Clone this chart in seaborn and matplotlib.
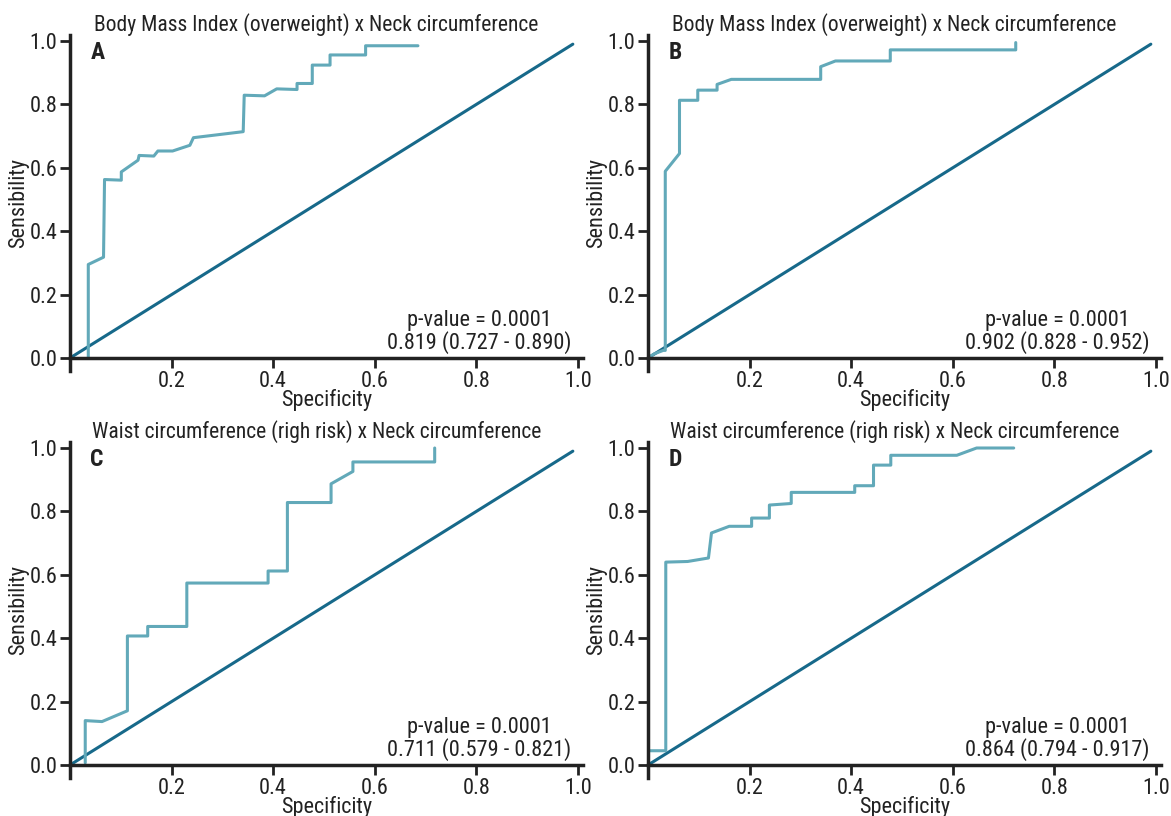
import matplotlib
matplotlib.use("Agg")
import matplotlib.pyplot as plt
from matplotlib import font_manager
import seaborn as sns

sns.set_theme(style="white")

# pick a narrow face if one is installed, else a regular one
installed = {f.name for f in font_manager.fontManager.ttflist}
wanted = ['Liberation Sans Narrow', 'Roboto Condensed', 'Open Sans Condensed',
          'Noto Sans Condensed', 'Liberation Sans']
family = [f for f in wanted if f in installed][0]
narrow = family != 'Liberation Sans'
plt.rcParams['font.family'] = [family, 'DejaVu Sans']
fs = 16 if narrow else 13.5

# ROC curves (x = 1 - specificity, y = sensitivity)
a_x = [0.036, 0.036, 0.066, 0.068, 0.101, 0.101, 0.134, 0.136, 0.165, 0.173, 0.202, 0.236,
       0.243, 0.341, 0.343, 0.383, 0.407, 0.447, 0.447, 0.477, 0.477, 0.512, 0.512, 0.582,
       0.582, 0.685]
a_y = [0.0, 0.295, 0.318, 0.563, 0.561, 0.587, 0.624, 0.639, 0.637, 0.653, 0.653, 0.671,
       0.695, 0.714, 0.829, 0.827, 0.849, 0.847, 0.866, 0.866, 0.924, 0.924, 0.956, 0.956,
       0.985, 0.985]

b_x = [0.0, 0.012, 0.030, 0.034, 0.034, 0.062, 0.062, 0.098, 0.098, 0.136, 0.136, 0.164,
       0.340, 0.340, 0.369, 0.477, 0.477, 0.724, 0.724]
b_y = [0.0, 0.013, 0.024, 0.024, 0.589, 0.645, 0.813, 0.813, 0.845, 0.845, 0.863, 0.879,
       0.879, 0.919, 0.937, 0.937, 0.972, 0.972, 0.995]

c_x = [0.030, 0.030, 0.063, 0.113, 0.113, 0.153, 0.153, 0.230, 0.230, 0.390, 0.390, 0.428,
       0.428, 0.514, 0.514, 0.557, 0.557, 0.718, 0.718]
c_y = [0.007, 0.140, 0.137, 0.171, 0.407, 0.407, 0.437, 0.437, 0.574, 0.574, 0.612, 0.612,
       0.828, 0.828, 0.887, 0.926, 0.956, 0.956, 1.0]

d_x = [0.004, 0.035, 0.035, 0.078, 0.119, 0.125, 0.160, 0.204, 0.204, 0.239, 0.239, 0.282,
       0.282, 0.407, 0.407, 0.444, 0.444, 0.478, 0.478, 0.608, 0.647, 0.720]
d_y = [0.045, 0.045, 0.640, 0.642, 0.653, 0.732, 0.753, 0.753, 0.779, 0.779, 0.820, 0.825,
       0.860, 0.860, 0.881, 0.881, 0.946, 0.946, 0.977, 0.977, 1.0, 1.0]

diag = [0.0, 0.99]

titles = ["Body Mass Index (overweight) x Neck circumference",
          "Body Mass Index (overweight) x Neck circumference",
          "Waist circumference (righ risk) x Neck circumference",
          "Waist circumference (righ risk) x Neck circumference"]
letters = ["A", "B", "C", "D"]
stats = ["p-value = 0.0001\n0.819 (0.727 - 0.890)",
         "p-value = 0.0001\n0.902 (0.828 - 0.952)",
         "p-value = 0.0001\n0.711 (0.579 - 0.821)",
         "p-value = 0.0001\n0.864 (0.794 - 0.917)"]
curves = [(a_x, a_y), (b_x, b_y), (c_x, c_y), (d_x, d_y)]

curve_color = "#62a9b9"
diag_color = "#17698a"
ink = "#222222"

fig = plt.figure(figsize=(11.71, 8.16), dpi=100)
W, H = 1171, 816
# left spine x, y of data-zero (pixels)
origins = [(70, 358), (648, 358), (70, 765), (648, 765)]

for i, (ox, oy) in enumerate(origins):
    unit_y = 317
    bottom = oy + 0.04 * unit_y
    top = oy - 1.02 * unit_y
    ax = fig.add_axes([ox / W, 1 - bottom / H, 513 / W, (bottom - top) / H])
    xs, ys = curves[i]
    sns.lineplot(x=diag, y=diag, ax=ax, color=diag_color, lw=2.2,
                 sort=False, estimator=None, errorbar=None)
    sns.lineplot(x=xs, y=ys, ax=ax, color=curve_color, lw=2.2,
                 sort=False, estimator=None, errorbar=None)
    ax.set_xlim(0, 1.01)
    ax.set_ylim(-0.04, 1.02)
    ax.spines['bottom'].set_position(('data', 0))
    ax.spines['right'].set_visible(False)
    ax.spines['top'].set_visible(False)
    for s in ['left', 'bottom']:
        ax.spines[s].set_linewidth(2.5)
        ax.spines[s].set_color(ink)
    ax.set_xticks([0.2, 0.4, 0.6, 0.8, 1.0])
    ax.set_xticklabels(["0.2", "0.4", "0.6", "0.8", "1.0"])
    ax.set_yticks([0.0, 0.2, 0.4, 0.6, 0.8, 1.0])
    ax.set_yticklabels(["0.0", "0.2", "0.4", "0.6", "0.8", "1.0"])
    ax.tick_params(axis='both', direction='out', length=7, width=2, color=ink,
                   labelsize=fs, labelcolor=ink, pad=2, left=True, bottom=True)
    ax.set_xlabel("Specificity", fontsize=fs, color=ink, labelpad=-2)
    ax.set_ylabel("Sensibility", fontsize=fs, color=ink, labelpad=0)
    ax.set_title(titles[i], fontsize=fs - 0.5, color=ink, x=0.48, y=1.012, pad=0)
    ax.text(0.04, 0.965, letters[i], fontsize=fs + 1, fontweight='bold', color=ink,
            va='center', ha='left')
    ax.text(0.805, 0.082, stats[i], fontsize=fs, color=ink, ha='center', va='center',
            multialignment='center', linespacing=0.95)
    ax.grid(False)

fig.savefig("out.png", dpi=100)
